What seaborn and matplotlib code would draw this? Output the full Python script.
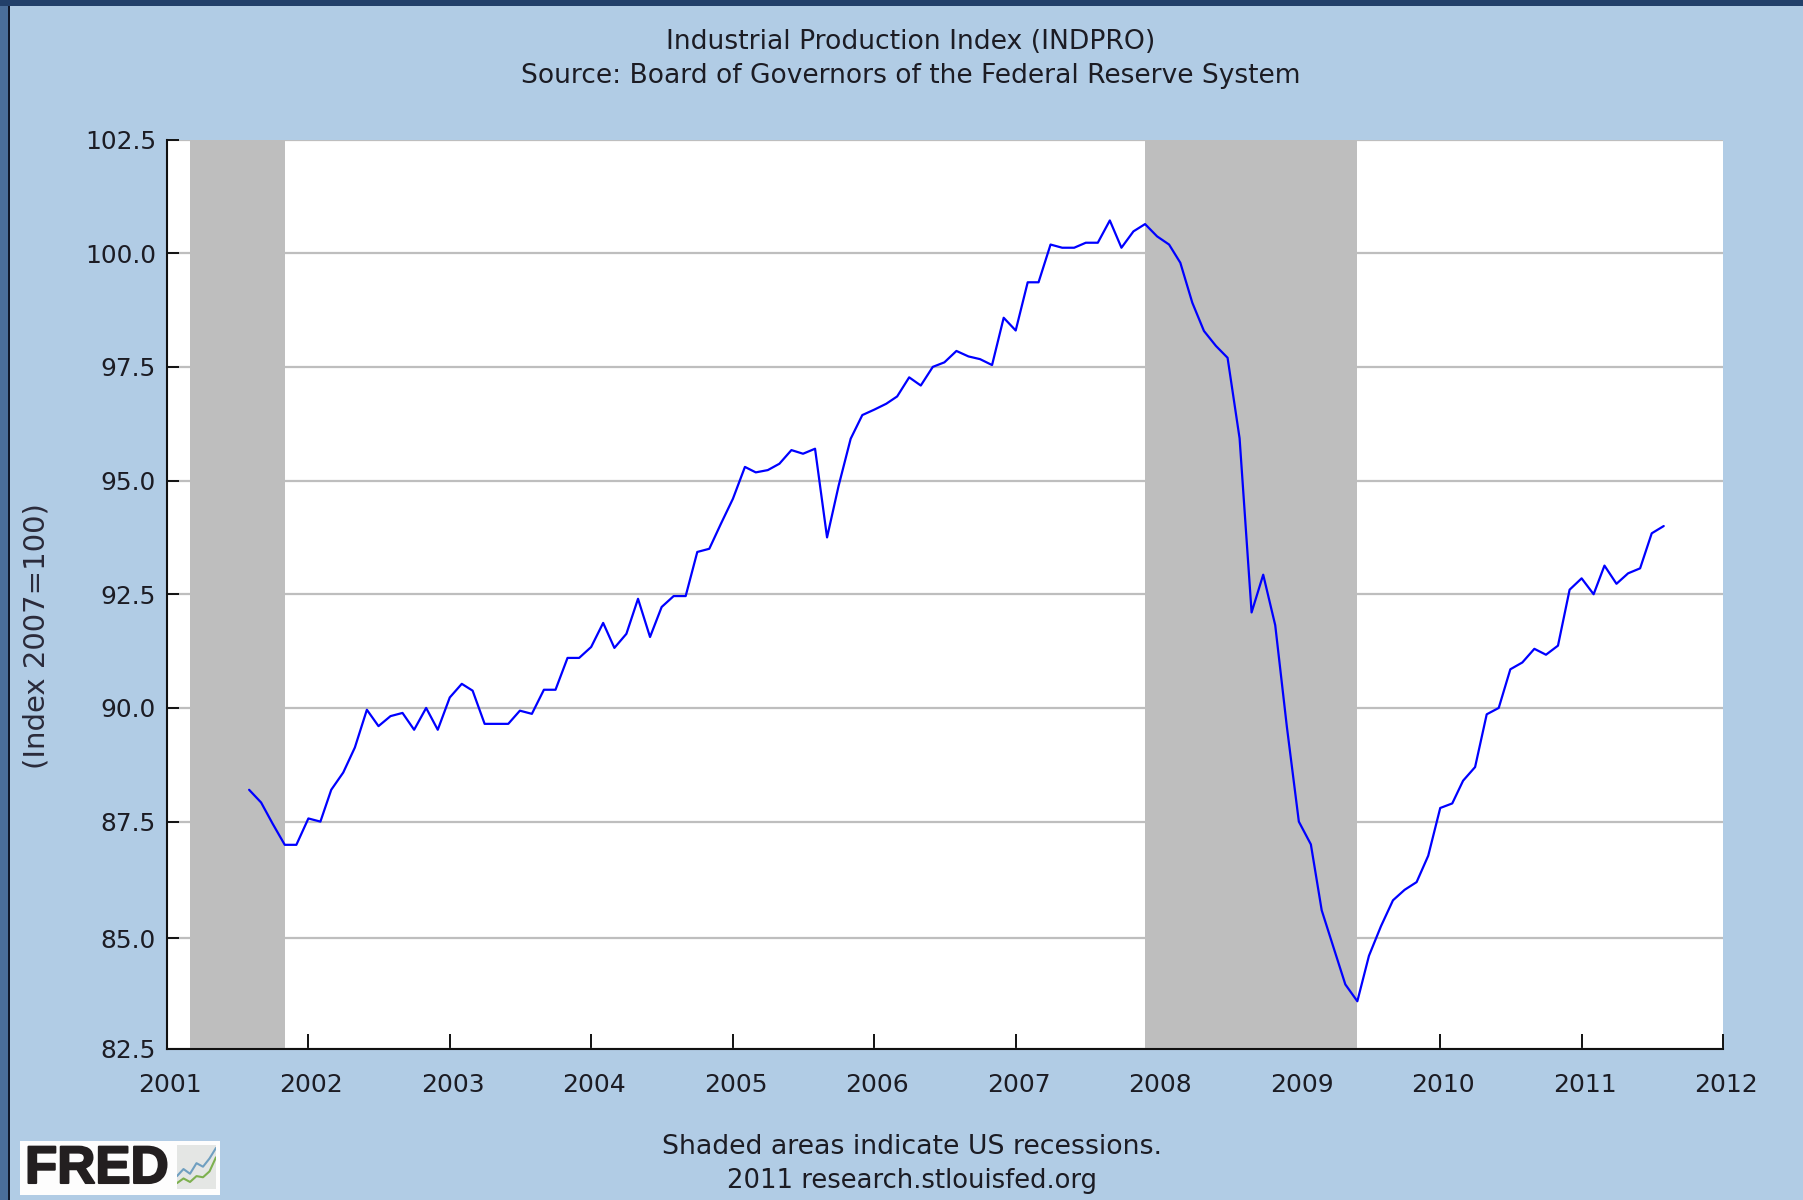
"""Industrial Production Index (INDPRO) en el estilo de los graficos FRED."""
import pandas as pd
import matplotlib
matplotlib.use("Agg")
import matplotlib.pyplot as plt
import matplotlib.dates as mdates
import matplotlib.patheffects as pe
from matplotlib.patches import Rectangle
from matplotlib.transforms import ScaledTranslation
import seaborn as sns

W, H = 1803, 1200
PANEL = "#B1CCE5"
TXT = "#1c1c24"

# valores mensuales (ago 2001 - ago 2011)
y2001 = [88.2, 87.92, 87.45, 86.99, 86.99]
y2002 = [87.57, 87.5, 88.2, 88.58, 89.13, 89.96, 89.6, 89.82, 89.89, 89.52, 90.0, 89.52]
y2003 = [90.23, 90.53, 90.38, 89.65, 89.65, 89.65, 89.94, 89.87, 90.4, 90.4, 91.1, 91.1]
y2004 = [91.34, 91.87, 91.32, 91.63, 92.4, 91.56, 92.22, 92.46, 92.46, 93.43, 93.5, 94.05]
y2005 = [94.6, 95.3, 95.18, 95.23, 95.37, 95.67, 95.59, 95.7, 93.75, 94.89, 95.92, 96.44]
y2006 = [96.56, 96.69, 96.85, 97.27, 97.09, 97.5, 97.6, 97.85, 97.73, 97.67, 97.54, 98.58]
y2007 = [98.3, 99.36, 99.36, 100.19, 100.12, 100.12, 100.23, 100.23, 100.72, 100.12, 100.48, 100.64]
y2008 = [100.37, 100.19, 99.79, 98.91, 98.29, 97.96, 97.7, 95.93, 92.1, 92.93, 91.82, 89.59]
y2009 = [87.5, 87.0, 85.55, 84.72, 83.92, 83.55, 84.55, 85.2, 85.77, 86.0, 86.17, 86.75]
y2010 = [87.8, 87.9, 88.4, 88.7, 89.86, 90.0, 90.85, 91.0, 91.3, 91.17, 91.37, 92.6]
y2011 = [92.85, 92.5, 93.13, 92.73, 92.96, 93.07, 93.84, 94.0]
values = y2001 + y2002 + y2003 + y2004 + y2005 + y2006 + y2007 + y2008 + y2009 + y2010 + y2011
dates = pd.date_range("2001-08-01", periods=len(values), freq="MS")
df = pd.DataFrame({"date": dates, "indpro": values})

recessions = [("2001-03-01", "2001-11-01"), ("2007-12-01", "2009-06-01")]
# la linea de 85.0 esta unos pixeles mas abajo en el original
yticks = [82.5, 84.93, 87.5, 90.0, 92.5, 95.0, 97.5, 100.0, 102.5]
ylabels = ["82.5", "85.0", "87.5", "90.0", "92.5", "95.0", "97.5", "100.0", "102.5"]
# icono del logo
icon_x = [0, 1, 2, 3, 4, 5, 6]
icon_blue = [2.2, 3.4, 2.6, 4.4, 3.8, 5.2, 7.0]
icon_green = [1.0, 1.8, 1.2, 2.2, 2.0, 3.0, 5.4]

sns.set_theme(style="white")
plt.rcParams["font.family"] = ["DejaVu Sans"]

fig = plt.figure(figsize=(W / 100, H / 100), dpi=100, facecolor=PANEL)

# marco oscuro de la captura
fig.add_artist(Rectangle((0, 0), 8 / W, 1, transform=fig.transFigure, color="#4A6E9A", lw=0))
fig.add_artist(Rectangle((8 / W, 0), 2 / W, 1, transform=fig.transFigure, color="#10182A", lw=0))
fig.add_artist(Rectangle((0, 1 - 6 / H), 1, 6 / H, transform=fig.transFigure, color="#22406A", lw=0))

ax = fig.add_axes([167 / W, 1 - 1049 / H, (1723 - 167) / W, (1049 - 139.5) / H])
ax.set_facecolor("white")
ax.set_axisbelow(True)
ax.yaxis.grid(True, color="#BEBEBE", lw=1.6)
ax.xaxis.grid(False)
for a, b in recessions:
    ax.axvspan(pd.Timestamp(a), pd.Timestamp(b), color="#BEBEBE", lw=0, zorder=1.5)
sns.lineplot(data=df, x="date", y="indpro", ax=ax, color="#0000FF", lw=1.6, zorder=3)

ax.set_xlim(pd.Timestamp("2001-01-01"), pd.Timestamp("2012-01-01"))
ax.set_ylim(82.5, 102.5)
ax.set_yticks(yticks)
ax.set_yticklabels(ylabels)
ax.xaxis.set_major_locator(mdates.YearLocator())
ax.xaxis.set_major_formatter(mdates.DateFormatter("%Y"))
ax.set_xlabel(""); ax.set_ylabel("")
ax.tick_params(axis="y", direction="in", length=8.5, width=1.4, color="#111111",
               labelsize=17.9, labelcolor=TXT, pad=8, left=True)
ax.tick_params(axis="x", direction="in", length=10.5, width=1.4, color="#111111",
               labelsize=18, labelcolor=TXT, pad=17, bottom=True)
# los anios van un poco a la derecha de su marca
shift = ScaledTranslation(3 / 100, 0, fig.dpi_scale_trans)
for lab in ax.get_xticklabels():
    lab.set_transform(lab.get_transform() + shift)
for s in ["top", "right"]:
    ax.spines[s].set_visible(False)
for s in ["left", "bottom"]:
    ax.spines[s].set_color("#111111")
    ax.spines[s].set_linewidth(1.5)

fig.text(911 / W, 1 - 42 / H, "Industrial Production Index (INDPRO)", ha="center", va="center",
         fontsize=19.2, color=TXT)
fig.text(911 / W, 1 - 76 / H, "Source: Board of Governors of the Federal Reserve System",
         ha="center", va="center", fontsize=19.1, color=TXT)
fig.text(37 / W, 1 - 636 / H, "(Index 2007=100)", rotation=90, ha="center", va="center",
         fontsize=21, color="#2a2a3a")
fig.text(912 / W, 1 - 1147 / H, "Shaded areas indicate US recessions.", ha="center", va="center",
         fontsize=19.3, color=TXT)
fig.text(912 / W, 1 - 1181 / H, "2011 research.stlouisfed.org", ha="center", va="center",
         fontsize=18.6, color=TXT)

# logo FRED
fig.add_artist(Rectangle((20 / W, 1 - 1195 / H), 200 / W, 54 / H, transform=fig.transFigure,
                         color="#FDFDFD", lw=0))
fred = fig.text(25 / W, 1 - 1169 / H, "FRED", ha="left", va="center", fontsize=38, weight="bold",
                color="#231F20", family="Liberation Sans")
fred.set_path_effects([pe.withStroke(linewidth=1.5, foreground="#231F20")])
icon = fig.add_axes([177 / W, 1 - 1189 / H, 39 / W, 44 / H], facecolor="#E4E6E4", zorder=5)
sns.lineplot(x=icon_x, y=icon_blue, ax=icon, color="#6F9FC0", lw=1.5)
sns.lineplot(x=icon_x, y=icon_green, ax=icon, color="#7DB04F", lw=1.5)
icon.set_xlim(0, 6); icon.set_ylim(0, 7.5)
icon.set_xticks([]); icon.set_yticks([])
for s in icon.spines.values():
    s.set_visible(False)

fig.savefig("out.png", dpi=100, facecolor=fig.get_facecolor())
